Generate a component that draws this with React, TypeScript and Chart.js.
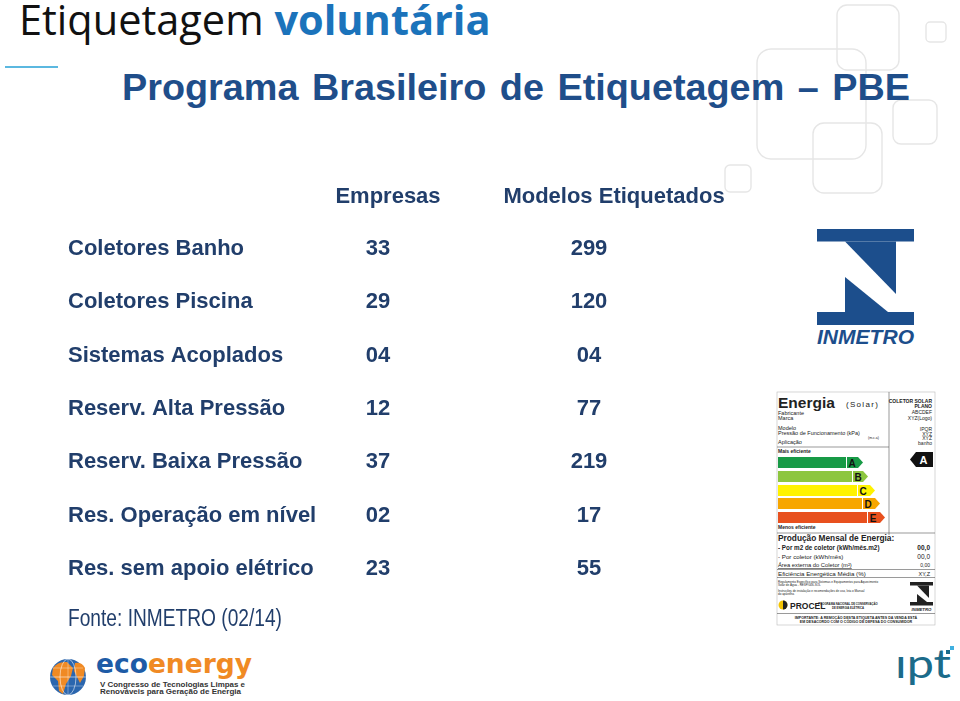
import React, { useEffect, useRef } from 'react';
import { Chart, registerables } from 'chart.js';

Chart.register(...registerables);

// ---------- data ----------
const ROWS = [
  'Coletores Banho',
  'Coletores Piscina',
  'Sistemas Acoplados',
  'Reserv. Alta Pressão',
  'Reserv. Baixa Pressão',
  'Res. Operação em nível',
  'Res. sem apoio elétrico',
];
const COLUMNS = ['Empresas', 'Modelos Etiquetados'];
const EMPRESAS = [33, 29, 4, 12, 37, 2, 23];
const MODELOS = [299, 120, 4, 77, 219, 17, 55];
const SOURCE = 'Fonte: INMETRO (02/14)';

const SERIES = [EMPRESAS, MODELOS];

// ---------- styles ----------
const TABLE_COLOR = '#213E6B';
const SANS = '"Liberation Sans", Arial, Helvetica, sans-serif';
const TABLE_FONT = { family: SANS, size: 22, weight: 'bold' as const };

const fmt = (v: number) => String(v).padStart(2, '0');

const valueLabels = {
  id: 'valueLabels',
  afterDatasetsDraw(chart: any) {
    const ctx = chart.ctx;
    ctx.save();
    ctx.font = `bold ${TABLE_FONT.size}px ${SANS}`;
    ctx.fillStyle = TABLE_COLOR;
    ctx.textAlign = 'center';
    ctx.textBaseline = 'middle';
    chart.data.datasets.forEach((_ds: any, di: number) => {
      const meta = chart.getDatasetMeta(di);
      meta.data.forEach((el: any, i: number) => {
        ctx.fillText(fmt(SERIES[di][i]), el.x, el.y);
      });
    });
    ctx.restore();
  },
};

function EnergyLabel() {
  const t = (x: number, y: number, s: string, size = 5, bold = false, anchor: string = 'start', extra: any = {}) => (
    <text x={x} y={y} fontSize={size} fontWeight={bold ? 700 : 400} textAnchor={anchor} fill="#222" fontFamily={SANS} {...extra}>
      {s}
    </text>
  );
  const bars = [
    { l: 'A', y: 72, end: 76, tip: 93, c: '#179a46' },
    { l: 'B', y: 86, end: 82, tip: 98, c: '#8dc63f' },
    { l: 'C', y: 100, end: 87, tip: 105, c: '#fff200' },
    { l: 'D', y: 113, end: 92, tip: 110, c: '#f7a600' },
    { l: 'E', y: 127, end: 97, tip: 115, c: '#e8501e' },
  ];
  return (
    <g transform="translate(770,385)">
      <rect x={7} y={7} width={158} height={233} fill="#fff" stroke="#bbb" strokeWidth={0.6} />
      <line x1={119} y1={7} x2={119} y2={150} stroke="#555" strokeWidth={0.6} />
      {t(8, 23, 'Energia', 15.5, true)}
      {t(76, 22, '(Solar)', 8, false, 'start', { letterSpacing: 1.3 })}
      {t(8, 30, 'Fabricante', 5.5)}
      {t(8, 35, 'Marca', 5.5)}
      {t(8, 45, 'Modelo', 5.5)}
      {t(8, 50, 'Pressão de Funcionamento (kPa)', 5.5)}
      {t(98, 54, '(m.c.a)', 3.5)}
      {t(8, 59, 'Aplicação', 5.5)}
      {t(162, 18, 'COLETOR SOLAR', 5, true, 'end')}
      {t(162, 23, 'PLANO', 5, true, 'end')}
      {t(162, 29, 'ABCDEF', 5, false, 'end')}
      {t(162, 35, 'XYZ(Logo)', 5, false, 'end')}
      {t(162, 46, 'IPQR', 5, false, 'end')}
      {t(162, 51, 'XYZ', 5, false, 'end')}
      {t(162, 55, 'XYZ', 5, false, 'end')}
      {t(162, 60, 'banho', 5, false, 'end')}
      <line x1={7} y1={62} x2={119} y2={62} stroke="#555" strokeWidth={0.6} />
      {t(8, 68, 'Mais eficiente', 5, true)}
      {bars.map((b) => (
        <g key={b.l}>
          <rect x={8} y={b.y} width={b.end - 8} height={11} fill={b.c} />
          <polygon
            points={`${b.end + 1},${b.y} ${b.tip - 5},${b.y} ${b.tip},${b.y + 5.5} ${b.tip - 5},${b.y + 11} ${b.end + 1},${b.y + 11}`}
            fill={b.c}
          />
          <text x={b.end + 6} y={b.y + 9.5} fontSize={10} fontWeight={700} fill="#111" fontFamily={SANS} textAnchor="middle">
            {b.l}
          </text>
        </g>
      ))}
      <polygon points="140,74.5 146,67 163,67 163,82 146,82" fill="#111" />
      <text x={153.5} y={79} fontSize={11} fontWeight={700} fill="#fff" fontFamily={SANS} textAnchor="middle">
        A
      </text>
      {t(8, 144, 'Menos eficiente', 5, true)}
      <line x1={7} y1={148} x2={165} y2={148} stroke="#555" strokeWidth={0.6} />
      {t(8, 156, 'Produção Mensal de Energia:', 8.3, true)}
      {t(8, 165, '- Por m2 de coletor (kWh/mês.m2)', 6.3, true)}
      {t(160, 165, '00,0', 6.5, true, 'end')}
      {t(8, 174, '- Por coletor (kWh/mês)', 6.2)}
      {t(160, 174, '00,0', 6.5, false, 'end')}
      {t(8, 182, 'Área externa do Coletor (m²)', 5.8, false, 'start', { textDecoration: 'underline' })}
      {t(160, 182, '0,00', 5, false, 'end')}
      <line x1={7} y1={184.5} x2={165} y2={184.5} stroke="#555" strokeWidth={0.6} />
      {t(8, 190.5, 'Eficiência Energética Média (%)', 6.2)}
      {t(160, 190.5, 'XY,Z', 5.5, false, 'end')}
      <line x1={7} y1={192.5} x2={165} y2={192.5} stroke="#555" strokeWidth={0.6} />
      {t(8, 197.5, 'Regulamento Específico para Sistemas e Equipamentos para Aquecimento', 3)}
      {t(8, 201, 'Solar de Água - RESP/006-SOL', 3)}
      {t(8, 206.5, 'Instruções de instalação e recomendações de uso, leia o Manual', 3)}
      {t(8, 210, 'do aparelho.', 3)}
      <circle cx={13} cy={220} r={4.5} fill="#f5c400" />
      <path d="M13,215.5 A4.5,4.5 0 0,1 13,224.5 Z" fill="#222" />
      {t(20, 223.5, 'PROCEL', 8.5, true)}
      {t(78, 219.5, 'PROGRAMA NACIONAL DE CONSERVAÇÃO', 2.8, true, 'middle')}
      {t(78, 223.5, 'DE ENERGIA ELÉTRICA', 2.8, true, 'middle')}
      <rect x={140} y={197} width={23} height={3.5} fill="#222" />
      <polygon points="147,200.5 159,200.5 159,213" fill="#222" />
      <polygon points="147,209 147,217 157,217" fill="#222" />
      <rect x={140} y={217} width={23} height={3.5} fill="#222" />
      {t(151.5, 225.5, 'INMETRO', 4.3, true, 'middle', { fontStyle: 'italic' })}
      <line x1={7} y1={228.5} x2={165} y2={228.5} stroke="#555" strokeWidth={0.6} />
      {t(86, 233.5, 'IMPORTANTE: A REMOÇÃO DESTA ETIQUETA ANTES DA VENDA ESTÁ', 3.6, true, 'middle')}
      {t(86, 237.5, 'EM DESACORDO COM O CÓDIGO DE DEFESA DO CONSUMIDOR', 3.6, true, 'middle')}
    </g>
  );
}

function Decorations() {
  const sq = (x: number, y: number, w: number, h: number, r: number) => (
    <rect x={x} y={y} width={w} height={h} rx={r} ry={r} fill="none" stroke="#e6e6e6" strokeWidth={1.4} />
  );
  return (
    <svg width={960} height={701} style={{ position: 'absolute', left: 0, top: 0 }}>
      {/* decorative rounded squares */}
      {sq(837, 5, 62, 65, 10)}
      {sq(926, 22, 20, 20, 4)}
      {sq(757, 49, 109, 110, 14)}
      {sq(893, 100, 44, 44, 8)}
      {sq(813, 123, 69, 70, 11)}
      {sq(725, 165, 26, 27, 5)}
      {/* title underline */}
      <rect x={5} y={66} width={53} height={2} fill="#5BB8E0" />
      {/* INMETRO logo */}
      <g fill="#1C4E8C">
        <rect x={817} y={229} width={97} height={12.5} />
        <polygon points="845,241.5 896,241.5 896,294" />
        <polygon points="845,277 845,312 888,312" />
        <rect x={817} y={312} width={97} height={13} />
        <text x={817} y={344} fontSize={20} fontWeight={700} fontStyle="italic" fontFamily={SANS} textLength={97} lengthAdjust="spacingAndGlyphs">
          INMETRO
        </text>
      </g>
      <EnergyLabel />
      {/* ecoenergy logo */}
      <g>
        <circle cx={68} cy={677} r={18} fill="#2b66ae" />
        <path d="M53,668 Q58,661 67,662 L73,668 L71,676 L66,684 L63,694 L59,691 L58,681 L52,675 Z" fill="#f08a24" />
        <path d="M75,663 Q82,662 85,668 L84,676 L80,683 L77,677 L74,671 Z" fill="#f08a24" />
        <ellipse cx={68} cy={677} rx={8} ry={18} fill="none" stroke="#fff" strokeWidth={0.7} opacity={0.8} />
        <line x1={50} y1={677} x2={86} y2={677} stroke="#fff" strokeWidth={0.7} opacity={0.8} />
        <line x1={53} y1={668} x2={83} y2={668} stroke="#fff" strokeWidth={0.5} opacity={0.7} />
        <line x1={53} y1={686} x2={83} y2={686} stroke="#fff" strokeWidth={0.5} opacity={0.7} />
        <line x1={68} y1={659} x2={68} y2={695} stroke="#fff" strokeWidth={0.5} opacity={0.7} />
        <text x={96} y={673} fontSize={27} fontWeight={700} fontFamily='"DejaVu Sans", sans-serif' textLength={156} lengthAdjust="spacingAndGlyphs">
          <tspan fill="#1d5ba6">eco</tspan>
          <tspan fill="#f08a24">energy</tspan>
        </text>
        <text x={100} y={686.5} fontSize={7.6} fontWeight={700} fill="#333" fontFamily={SANS} textLength={145} lengthAdjust="spacingAndGlyphs">
          V Congresso de Tecnologias Limpas e
        </text>
        <text x={100} y={694} fontSize={7.6} fontWeight={700} fill="#333" fontFamily={SANS} textLength={141} lengthAdjust="spacingAndGlyphs">
          Renováveis para Geração de Energia
        </text>
      </g>
      {/* ipt logo */}
      <g>
        <text x={895} y={678} fontSize={40} fontFamily="Lato, sans-serif" fill="#1b6b8a" textLength={56} lengthAdjust="spacingAndGlyphs">
          ıpt
        </text>
        <rect x={946} y={650} width={4} height={4} fill="#1b6b8a" />
        <rect x={950} y={646} width={4} height={4} fill="#3fb0e0" />
      </g>
    </svg>
  );
}

export default function App() {
  const canvasRef = useRef<HTMLCanvasElement | null>(null);

  useEffect(() => {
    const canvas = canvasRef.current;
    if (!canvas) return;
    const chart = new Chart(canvas, {
      type: 'scatter',
      data: {
        datasets: COLUMNS.map((name, ci) => ({
          label: name,
          data: ROWS.map((row) => ({ x: ci, y: row })),
          xAxisID: 'xv',
          yAxisID: 'y',
          pointRadius: 0,
          pointHoverRadius: 0,
        })),
      } as any,
      options: {
        animation: false,
        responsive: false,
        events: [],
        layout: { padding: { left: 68, right: 233, top: 172.3, bottom: 105.3 } },
        plugins: { legend: { display: false }, tooltip: { enabled: false } },
        scales: {
          x: {
            type: 'linear',
            position: 'top',
            min: -0.2655,
            max: 1.5,
            grid: { display: false, drawTicks: false },
            border: { display: false },
            afterBuildTicks: (s: any) => {
              s.ticks = COLUMNS.map((_, i) => ({ value: i }));
            },
            afterFit: (s: any) => {
              s.height = 50;
            },
            ticks: {
              autoSkip: false,
              maxRotation: 0,
              minRotation: 0,
              padding: 12,
              color: TABLE_COLOR,
              font: TABLE_FONT,
              callback: (v: any) => COLUMNS[v] ?? '',
            },
          },
          xv: { type: 'linear', display: false, min: -0.237, max: 1.654 },
          y: {
            type: 'category',
            labels: ROWS,
            offset: true,
            position: 'left',
            grid: { display: false, drawTicks: false },
            border: { display: false },
            afterFit: (s: any) => {
              s.width = 260;
            },
            ticks: { crossAlign: 'far', autoSkip: false, color: TABLE_COLOR, font: TABLE_FONT },
          },
        },
      } as any,
      plugins: [valueLabels],
    });
    return () => chart.destroy();
  }, []);

  return (
    <div style={{ position: 'absolute', left: 0, top: 0, width: 960, height: 701, overflow: 'hidden', background: '#fff' }}>
      <Decorations />
      <div
        style={{
          position: 'absolute',
          left: 19,
          top: -1,
          font: '41.5px "Open Sans", Lato, sans-serif',
          lineHeight: '40px',
          color: '#111',
          whiteSpace: 'nowrap',
        }}
      >
        Etiquetagem <span style={{ fontWeight: 700, color: '#1B73BB' }}>voluntária</span>
      </div>
      <div
        style={{
          position: 'absolute',
          left: 122,
          top: 69,
          font: `bold 37.8px ${SANS}`,
          lineHeight: '36px',
          color: '#1F4E8A',
          whiteSpace: 'nowrap',
          wordSpacing: 3,
        }}
      >
        Programa Brasileiro de Etiquetagem – PBE
      </div>
      <canvas ref={canvasRef} width={960} height={701} style={{ position: 'absolute', left: 0, top: 0 }} />
      <div
        style={{
          position: 'absolute',
          left: 68,
          top: 605,
          font: `23px ${SANS}`,
          lineHeight: '26px',
          color: '#213E6B',
          whiteSpace: 'nowrap',
          transform: 'scaleX(0.833)',
          transformOrigin: '0 0',
        }}
      >
        {SOURCE}
      </div>
    </div>
  );
}
